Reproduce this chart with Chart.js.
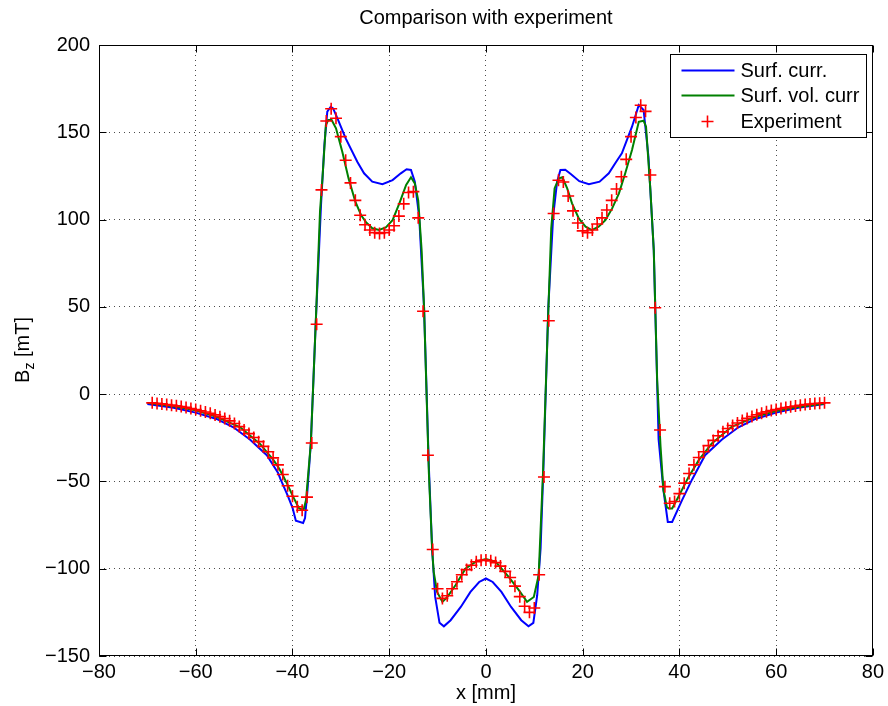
<!DOCTYPE html>
<html>
<head>
<meta charset="utf-8">
<script src="https://cdn.jsdelivr.net/npm/chart.js@4.4.0/dist/chart.umd.min.js"></script>
<style>
  html, body { margin: 0; padding: 0; background: #fff; }
  #wrap { width: 888px; height: 706px; }
</style>
</head>
<body>
<div id="wrap"><canvas id="bz" width="888" height="706"></canvas></div>
<script>
// axis ticks
const xTicks = [-80, -60, -40, -20, 0, 20, 40, 60, 80]
const yTicks = [-150, -100, -50, 0, 50, 100, 150, 200]

// measured points (x in mm, Bz in mT)
const expX = [-69,-68,-67,-66,-65,-64,-63,-62,-61,-60,-59,-58,-57,-56,-55,-54,-53,-52,-51,-50,
  -49,-48,-47,-46,-45,-44,-43,-42,-41,-40,-39,-38,-37,-36,-35,-34,-33,-32,-31,-30,
  -29,-28,-27,-26,-25,-24,-23,-22,-21,-20,-19,-18,-17,-16,-15,-14,-13,-12,-11,-10,
  -9,-8,-7,-6,-5,-4,-3,-2,-1,0,1,2,3,4,5,6,7,8,9,10,
  11,12,13,14,15,16,17,18,19,20,21,22,23,24,25,26,27,28,29,30,
  31,32,33,34,35,36,37,38,39,40,41,42,43,44,45,46,47,48,49,50,
  51,52,53,54,55,56,57,58,59,60,61,62,63,64,65,66,67,68,69,70]
const expY = [-5.0,-5.3,-5.6,-5.9,-6.3,-6.7,-7.1,-7.6,-8.2,-8.8,-9.5,-10.2,-11.0,-11.9,-12.9,-14.0,-15.3,-16.8,-18.6,-20.5,
  -22.6,-24.8,-27.2,-29.9,-33.0,-36.5,-40.5,-46,-52.5,-58.5,-64.5,-66.5,-59,-28,40,117,156.5,163.5,158,147.5,
  134,121,111,102.5,97,94,92.5,92,92.5,94,96.5,102,109,115.5,116,101,47.5,-35,-89,-111.5,
  -117,-115.5,-111.5,-107.5,-103.5,-100.5,-98,-96,-95.2,-95,-95.5,-96.5,-98.5,-101.5,-105,-110,-116,-121.5,-125,-122.5,
  -103.5,-47.5,42,103.5,122.5,121.5,113.5,105,98,93.5,92.5,94,97.5,101,105.5,111,117.5,124.5,134.5,147.5,
  158.5,165.5,162,125.5,49.5,-20.5,-53,-62.5,-61.5,-57,-51,-45.5,-40.5,-36.3,-33,-29.5,-26.5,-23.8,-21.6,-19.7,
  -18,-16.5,-15.1,-13.9,-12.8,-11.8,-10.9,-10.1,-9.4,-8.8,-8.2,-7.7,-7.2,-6.8,-6.4,-6.0,-5.7,-5.4,-5.2,-5.0]

// surface current model
const surfX = [-70,-64.6,-60,-55.7,-52.2,-48.8,-45.3,-43,-42.5,-41,-40,-39.3,-37.8,-37.4,-36.9,-36.2,-35.2,-34.1,-33.4,-32.8,
  -32.1,-31.6,-30.7,-29,-26.6,-25.2,-23.5,-21.4,-19.3,-17.6,-16.4,-15.5,-14.7,-13.8,-12.8,-11.8,-11.1,-10.5,-9.6,-8.7,
  -7.3,-5.2,-3.2,-1.4,0,1.4,3.2,5.2,7.3,8.8,9.8,10.6,11.3,11.9,12.9,13.9,14.7,15.4,16.4,17.6,
  19.3,21.3,23.5,25.4,26.9,28.1,30.2,31.6,32.6,33.6,34.7,35.7,36.7,37.6,38.5,40.5,42.6,45.3,48.8,52.2,
  55.7,60,64.6,70]
const surfY = [-5.6,-7.8,-10.6,-14.2,-19,-26,-35,-45,-48.5,-58,-65,-72.5,-73.8,-71,-55,-28,40,108.3,142.7,161.8,
  164.6,163.7,158,146.5,133.1,126.5,121.7,120.3,122.6,126.5,128.8,128.4,121.7,101.6,50,-41.7,-90,-116,-131,-133,
  -129.5,-121.9,-113.3,-107.6,-105.6,-107.6,-113.3,-121.9,-129.5,-133,-131,-115.2,-88.4,-41,50,102,121.5,128.4,128.5,126,
  122,120.3,121.7,126.5,133,138,153.2,165.6,162.8,136,82.5,-26,-55,-73.2,-73.2,-61,-49,-35,-26,-19,
  -14.2,-10.6,-7.8,-5.6]

// surface + volume current model
const volX = [-70,-64.6,-60,-55.7,-50.8,-46.7,-44,-43,-42,-41,-40,-39,-38.6,-37.7,-37.2,-36.5,-36.2,-35.2,-34.3,-33.8,
  -33.1,-32.6,-31.9,-31,-29.7,-28.4,-27,-25.8,-24.8,-23.5,-22.1,-20.7,-19.3,-17.9,-16.5,-15.5,-14.7,-14,-13.3,-12.8,
  -11.8,-11.1,-10.8,-10.1,-9,-8,-6.3,-4.2,-2,0,2,4.7,6.8,8.5,9.9,10.9,11.8,12.8,13.5,14.2,
  15.1,15.8,16.8,17.8,19.2,20.6,21.9,23.3,24.7,26.1,27.5,28.8,30.2,31.6,32.6,33.1,34,34.7,35.4,36.1,
  36.7,37.4,37.8,38.5,39.8,41.9,44,46.7,50.8,55.7,60,64.6,70]
const volY = [-5.0,-7.0,-9.3,-13,-19,-28.5,-37.5,-41.5,-46.5,-52,-58,-63.5,-65.5,-66.3,-60.7,-37.8,-28,40,105,123.6,
  154.2,157,157,152.3,138.9,123.6,110.2,102.5,98.5,95,94,95.5,99.7,109.3,119.8,124.2,120.7,111,82.5,50,
  -45,-90,-101.8,-113.3,-119,-116.2,-109.5,-99.9,-95.8,-94.5,-96,-104.7,-112.3,-119,-116.2,-103.7,-45,40,95,118,
  123.6,124.2,117.9,109.3,100.7,95.9,94,95.9,99.7,106.4,115,126.5,139.8,156,156.6,153.2,116.9,82.5,8,-30,
  -55,-64.6,-65.5,-65.5,-58.8,-47.4,-37.8,-28.3,-18.7,-13,-9.7,-7.3,-5.3]

const FONT = "'Liberation Sans', Arial, Helvetica, sans-serif"
const FSIZE = 20
Chart.defaults.font.family = FONT
Chart.defaults.font.size = FSIZE
Chart.defaults.color = '#000'

function toPoints(xs, ys){
    return xs.map((x, i) => ({x: x, y: ys[i]}))
}

function minusLabel(v){
    return v < 0 ? '\u2212' + Math.abs(v) : '' + v
}

// matlab style box, inward ticks, labels and legend
const matlabLook = {
    id: 'matlabLook',
    afterDraw(chart){
        const ctx = chart.ctx
        const a = chart.chartArea
        const sx = chart.scales.x, sy = chart.scales.y
        const tickLen = 7
        ctx.save()
        ctx.strokeStyle = '#000'
        ctx.lineWidth = 1
        const L = Math.round(a.left) + 0.5, R = Math.round(a.right) - 0.5
        const T = Math.round(a.top) + 0.5, B = Math.round(a.bottom) - 0.5
        ctx.strokeRect(L, T, R - L, B - T)
        ctx.beginPath()
        xTicks.forEach(v => {
            const p = Math.round(sx.getPixelForValue(v)) + 0.5
            ctx.moveTo(p, B); ctx.lineTo(p, B - tickLen)
            ctx.moveTo(p, T); ctx.lineTo(p, T + tickLen)
        })
        yTicks.forEach(v => {
            const p = Math.round(sy.getPixelForValue(v)) + 0.5
            ctx.moveTo(L, p); ctx.lineTo(L + tickLen, p)
            ctx.moveTo(R, p); ctx.lineTo(R - tickLen, p)
        })
        ctx.stroke()

        const font = FSIZE + 'px ' + FONT
        ctx.fillStyle = '#000'
        ctx.font = font
        ctx.textAlign = 'center'
        ctx.textBaseline = 'middle'
        const midX = (a.left + a.right) / 2
        ctx.fillText('Comparison with experiment', midX, 18)
        ctx.fillText('x [mm]', midX, 693)

        // y label with subscript
        ctx.save()
        ctx.translate(29, 350)
        ctx.rotate(-Math.PI / 2)
        ctx.textAlign = 'left'
        ctx.textBaseline = 'alphabetic'
        const subFont = Math.round(FSIZE * 0.7) + 'px ' + FONT
        ctx.font = font
        const wB = ctx.measureText('B').width
        const wRest = ctx.measureText(' [mT]').width
        ctx.font = subFont
        const wz = ctx.measureText('z').width
        let tx = -(wB + wz + wRest) / 2
        ctx.font = font; ctx.fillText('B', tx, 0); tx += wB
        ctx.font = subFont; ctx.fillText('z', tx, 5); tx += wz
        ctx.font = font; ctx.fillText(' [mT]', tx, 0)
        ctx.restore()

        // legend box
        const bx = Math.round(a.right) - 202.5, by = Math.round(a.top) + 9.5
        const bw = 196, bh = 83
        ctx.fillStyle = '#fff'
        ctx.fillRect(bx, by, bw, bh)
        ctx.strokeStyle = '#000'
        ctx.strokeRect(bx, by, bw, bh)
        ctx.save()
        ctx.beginPath()
        ctx.rect(bx, by, bw - 1, bh)
        ctx.clip()
        const rows = [by + 16, by + 41, by + 67]
        chart.data.datasets.forEach((ds, i) => {
            const ry = rows[i]
            ctx.strokeStyle = ds.borderColor
            ctx.lineWidth = ds.borderWidth
            ctx.beginPath()
            if (ds.showLine) {
                ctx.moveTo(bx + 11, ry); ctx.lineTo(bx + 64, ry)
            } else {
                ctx.moveTo(bx + 31, ry); ctx.lineTo(bx + 43, ry)
                ctx.moveTo(bx + 37, ry - 6); ctx.lineTo(bx + 37, ry + 6)
            }
            ctx.stroke()
            ctx.fillStyle = '#000'
            ctx.font = font
            ctx.textAlign = 'left'
            ctx.textBaseline = 'middle'
            ctx.fillText(ds.label, bx + 70, ry + 1)
        })
        ctx.restore()
        ctx.restore()
    }
}

const gridLook = {
    color: 'rgba(0,0,0,0.7)',
    lineWidth: 1,
    drawTicks: false
}

const ctx = document.querySelector('#bz')
const myChart = new Chart(ctx, {
    type: 'scatter',
    data: {
        datasets: [
            {
                label: 'Surf. curr.',
                data: toPoints(surfX, surfY),
                showLine: true,
                borderColor: '#0000ff',
                borderWidth: 2,
                pointRadius: 0,
                tension: 0,
                order: 2
            },
            {
                label: 'Surf. vol. curr',
                data: toPoints(volX, volY),
                showLine: true,
                borderColor: '#008000',
                borderWidth: 2,
                pointRadius: 0,
                tension: 0,
                order: 1
            },
            {
                label: 'Experiment',
                data: toPoints(expX, expY),
                showLine: false,
                pointStyle: 'cross',
                pointRadius: 6,
                borderColor: '#ff0000',
                backgroundColor: '#ff0000',
                borderWidth: 1.6,
                order: 0
            }
        ]
    },
    options: {
        responsive: false,
        animation: false,
        events: [],
        layout: { padding: { left: 0, right: 13, top: 45, bottom: 0 } },
        plugins: {
            legend: { display: false },
            tooltip: { enabled: false },
            title: { display: false }
        },
        scales: {
            x: {
                type: 'linear',
                min: -80, max: 80,
                afterBuildTicks: s => { s.ticks = xTicks.map(v => ({value: v})) },
                afterFit: s => { s.height = 50 },
                grid: gridLook,
                border: { display: false, dash: [1, 4] },
                ticks: { autoSkip: false, maxRotation: 0, padding: 4, callback: minusLabel }
            },
            y: {
                type: 'linear',
                min: -150, max: 200,
                afterBuildTicks: s => { s.ticks = yTicks.map(v => ({value: v})) },
                afterFit: s => { s.width = 99 },
                grid: gridLook,
                border: { display: false, dash: [1, 4] },
                ticks: { padding: 9, callback: minusLabel }
            }
        }
    },
    plugins: [matlabLook]
})
</script>
</body>
</html>
